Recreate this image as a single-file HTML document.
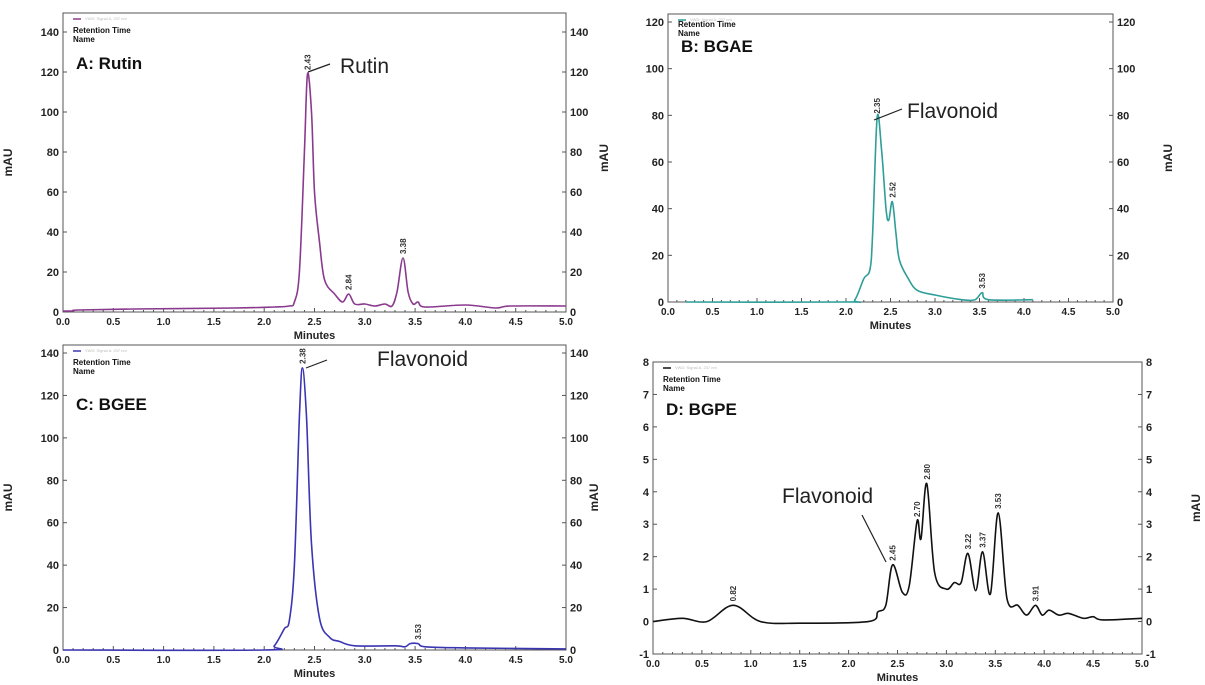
<!DOCTYPE html>
<html><head><meta charset="utf-8"><style>
html,body{margin:0;padding:0;background:#fff;width:1205px;height:685px;overflow:hidden}
svg{font-family:"Liberation Sans",Arial,sans-serif}
</style></head><body>
<svg id="s" width="1205" height="685" xmlns="http://www.w3.org/2000/svg"></svg>
<script>
const xTicks=["0.0","0.5","1.0","1.5","2.0","2.5","3.0","3.5","4.0","4.5","5.0"];
const aTimes=[0,0.1,0.15,0.7,1.7,2.1,2.25,2.3,2.35,2.4,2.43,2.47,2.5,2.55,2.6,2.7,2.78,2.84,2.9,3.0,3.1,3.2,3.27,3.32,3.38,3.43,3.48,3.53,3.6,4.0,4.3,4.45,5.0];
const aVals=[0.5,0.5,1,1.5,2,2.5,3,5,20,80,119,100,60,35,16,9,5,9,4,4,3,4,3,10,27,10,4,5,2.5,3.5,2,3,3];
const bTimes=[0.2,2.0,2.1,2.2,2.27,2.3,2.35,2.4,2.45,2.48,2.52,2.56,2.6,2.7,2.8,3.0,3.3,3.45,3.53,3.6,4.1];
const bVals=[0,0,1,10,14,30,79,65,40,35,43,30,18,10,5,3,1,1,4,1,1];
const cTimes=[0,2.0,2.1,2.2,2.25,2.3,2.35,2.38,2.42,2.47,2.55,2.65,2.75,2.9,3.3,3.4,3.45,3.53,3.6,4.0,5.0];
const cVals=[0,0,2,10,14,40,110,133,110,50,15,6,4,2,2,1.5,3,3,1.5,1,0.5];
const dTimes=[0,0.3,0.55,0.82,1.1,1.5,2.2,2.3,2.38,2.45,2.55,2.62,2.7,2.74,2.8,2.88,3.0,3.08,3.15,3.22,3.3,3.37,3.45,3.53,3.62,3.73,3.82,3.91,3.98,4.05,4.15,4.25,4.4,4.5,4.6,5.0];
const dVals=[0,0.1,0,0.5,0,-0.05,0,0.3,0.5,1.75,0.9,1.1,3.1,2.55,4.25,1.5,1.0,1.2,1.2,2.1,0.95,2.15,0.85,3.35,0.7,0.5,0.2,0.5,0.2,0.35,0.2,0.25,0.1,0.15,0.05,0.1];
const aPeaks=["2.43","2.84","3.38"], aPeakT=[2.43,2.84,3.38];
const bPeaks=["2.35","2.52","3.53"], bPeakT=[2.35,2.52,3.53];
const cPeaks=["2.38","3.53"], cPeakT=[2.38,3.53];
const dPeaks=["0.82","2.45","2.70","2.80","3.22","3.37","3.53","3.91"], dPeakT=[0.82,2.45,2.70,2.80,3.22,3.37,3.53,3.91];
const aTicks=[0,20,40,60,80,100,120,140],bTicks=[0,20,40,60,80,100,120],dTicks=[-1,0,1,2,3,4,5,6,7,8];

const S=document.getElementById('s');const NS="http://www.w3.org/2000/svg";
function mk(t,a,p){const e=document.createElementNS(NS,t);for(const k in a)e.setAttribute(k,a[k]);(p||S).appendChild(e);return e;}
function txt(s,a,p){const e=mk('text',a,p);e.textContent=s;return e;}
function smooth(pts){let d="M"+pts[0][0]+","+pts[0][1];for(let i=0;i<pts.length-1;i++){const p0=pts[Math.max(0,i-1)],p1=pts[i],p2=pts[i+1],p3=pts[Math.min(pts.length-1,i+2)];const c1=[p1[0]+(p2[0]-p0[0])/6,p1[1]+(p2[1]-p0[1])/6],c2=[p2[0]-(p3[0]-p1[0])/6,p2[1]-(p3[1]-p1[1])/6];d+=" C"+c1[0].toFixed(1)+","+c1[1].toFixed(1)+" "+c2[0].toFixed(1)+","+c2[1].toFixed(1)+" "+p2[0].toFixed(1)+","+p2[1].toFixed(1);}return d;}
function interp(ts,vs,t){for(let i=0;i<ts.length-1;i++){if(t>=ts[i]&&t<=ts[i+1]){return vs[i]+(vs[i+1]-vs[i])*(t-ts[i])/(ts[i+1]-ts[i]);}}return vs[vs.length-1];}

function panel(c){
  const g=mk('g',{});
  
  
  const X=t=>c.x0+(c.x1-c.x0)*t/5, Y=v=>c.yb+(c.yt-c.yb)*(v-c.ymin)/(c.ymax-c.ymin);
  const fr=mk('rect',{x:c.x0,y:c.top,width:c.x1-c.x0,height:Y(c.ymin)-c.top,fill:'none',stroke:'#555','stroke-width':1},g);
  
  for(let i=0;i<=50;i++){const x=X(i*0.1);mk('line',{x1:x,x2:x,y1:Y(c.ymin),y2:Y(c.ymin)-(i%5?2:4),stroke:'#555'},g);}
  xTicks.forEach((s,i)=>{const t=txt(s,{x:X(i*0.5),y:Y(c.ymin)+13,'font-size':10,'font-weight':'bold','text-anchor':'middle',fill:'#222'},g);});
  c.ticks.forEach(v=>{const y=Y(v);
    const l=txt(String(v),{x:c.x0-4,y:y+4,'font-size':11,'font-weight':'bold','text-anchor':'end',fill:'#222'},g);
    const r=txt(String(v),{x:c.x1+4,y:y+4,'font-size':11,'font-weight':'bold','text-anchor':'start',fill:'#222'},g);
    mk('line',{x1:c.x0,x2:c.x0+4,y1:y,y2:y,stroke:'#555'},g);mk('line',{x1:c.x1,x2:c.x1-4,y1:y,y2:y,stroke:'#555'},g);});
  const xt=txt('Minutes',{x:(c.x0+c.x1)/2,y:Y(c.ymin)+27,'font-size':11,'font-weight':'bold','text-anchor':'middle',fill:'#222'},g);
  
  c.titles.forEach(([x,n])=>{const ym=(c.top+Y(c.ymin))/2;const t=txt('mAU',{x:x,y:ym,'font-size':12,'font-weight':'bold','text-anchor':'middle',fill:'#222',transform:`rotate(-90 ${x} ${ym})`},g);});
  mk('line',{x1:c.x0+10,x2:c.x0+18,y1:c.top+6,y2:c.top+6,stroke:c.color,'stroke-width':1.5},g);
  txt('VWD: Signal A, 237 nm',{x:c.x0+22,y:c.top+7,'font-size':4,fill:'#bbb'},g);
  const rt=txt('Retention Time',{x:c.x0+10,y:c.top+c.rtDy,'font-size':8,'font-weight':'bold',fill:'#111'},g);
  txt('Name',{x:c.x0+10,y:c.top+c.rtDy+9,'font-size':8,'font-weight':'bold',fill:'#111'},g);
  const ti=txt(c.title,{x:c.x0+13,y:c.top+c.titleDy,'font-size':17,'font-weight':'bold',fill:'#111'},g);
  const pts=c.ts.map((t,i)=>[X(t),Y(c.vs[i])]);
  const p=mk('path',{d:smooth(pts),fill:'none',stroke:c.color,'stroke-width':1.6},g);
  
  c.peaks.forEach((s,i)=>{const x=X(c.peakT[i]),y=Y(interp(c.ts,c.vs,c.peakT[i]))-4;
    const t=txt(s,{x:x+3,y:y,'font-size':8,'font-weight':'bold',fill:'#333',transform:`rotate(-90 ${x+3} ${y})`},g);});
  const an=txt(c.ann[0],{x:c.ann[1],y:c.ann[2],'font-size':21,fill:'#222'},g);
  mk('line',{x1:c.ann[3],y1:c.ann[4],x2:c.ann[5],y2:c.ann[6],stroke:'#222','stroke-width':1.2},g);
}
panel({name:'panel-a-rutin',x0:63,x1:566,top:13,yb:312,yt:32,ymin:0,ymax:140,ticks:aTicks,color:'#8a3a8e',ts:aTimes,vs:aVals,peaks:aPeaks,peakT:aPeakT,title:'A: Rutin',titleDy:56,rtDy:20,titles:[[12,'y-axis-title-left']],ann:['Rutin',340,73,308,72,330,64]});
panel({name:'panel-b-bgae',x0:668,x1:1113,top:14,yb:302,yt:22,ymin:0,ymax:120,ticks:bTicks,color:'#2e9e98',ts:bTimes,vs:bVals,peaks:bPeaks,peakT:bPeakT,title:'B: BGAE',titleDy:38,rtDy:13,titles:[[608,'y-axis-title-left'],[1172,'y-axis-title-right']],ann:['Flavonoid',907,118,874,120,902,109]});
panel({name:'panel-c-bgee',x0:63,x1:566,top:345,yb:650,yt:353,ymin:0,ymax:140,ticks:aTicks,color:'#3a35b0',ts:cTimes,vs:cVals,peaks:cPeaks,peakT:cPeakT,title:'C: BGEE',titleDy:65,rtDy:20,titles:[[12,'y-axis-title-left'],[598,'y-axis-title-right']],ann:['Flavonoid',377,366,306,368,327,360]});
panel({name:'panel-d-bgpe',x0:653,x1:1142,top:362,yb:654,yt:362,ymin:-1,ymax:8,ticks:dTicks,color:'#111',ts:dTimes,vs:dVals,peaks:dPeaks,peakT:dPeakT,title:'D: BGPE',titleDy:53,rtDy:20,titles:[[1200,'y-axis-title-right']],ann:['Flavonoid',782,503,862,515,886,562]});
</script>
</body></html>
